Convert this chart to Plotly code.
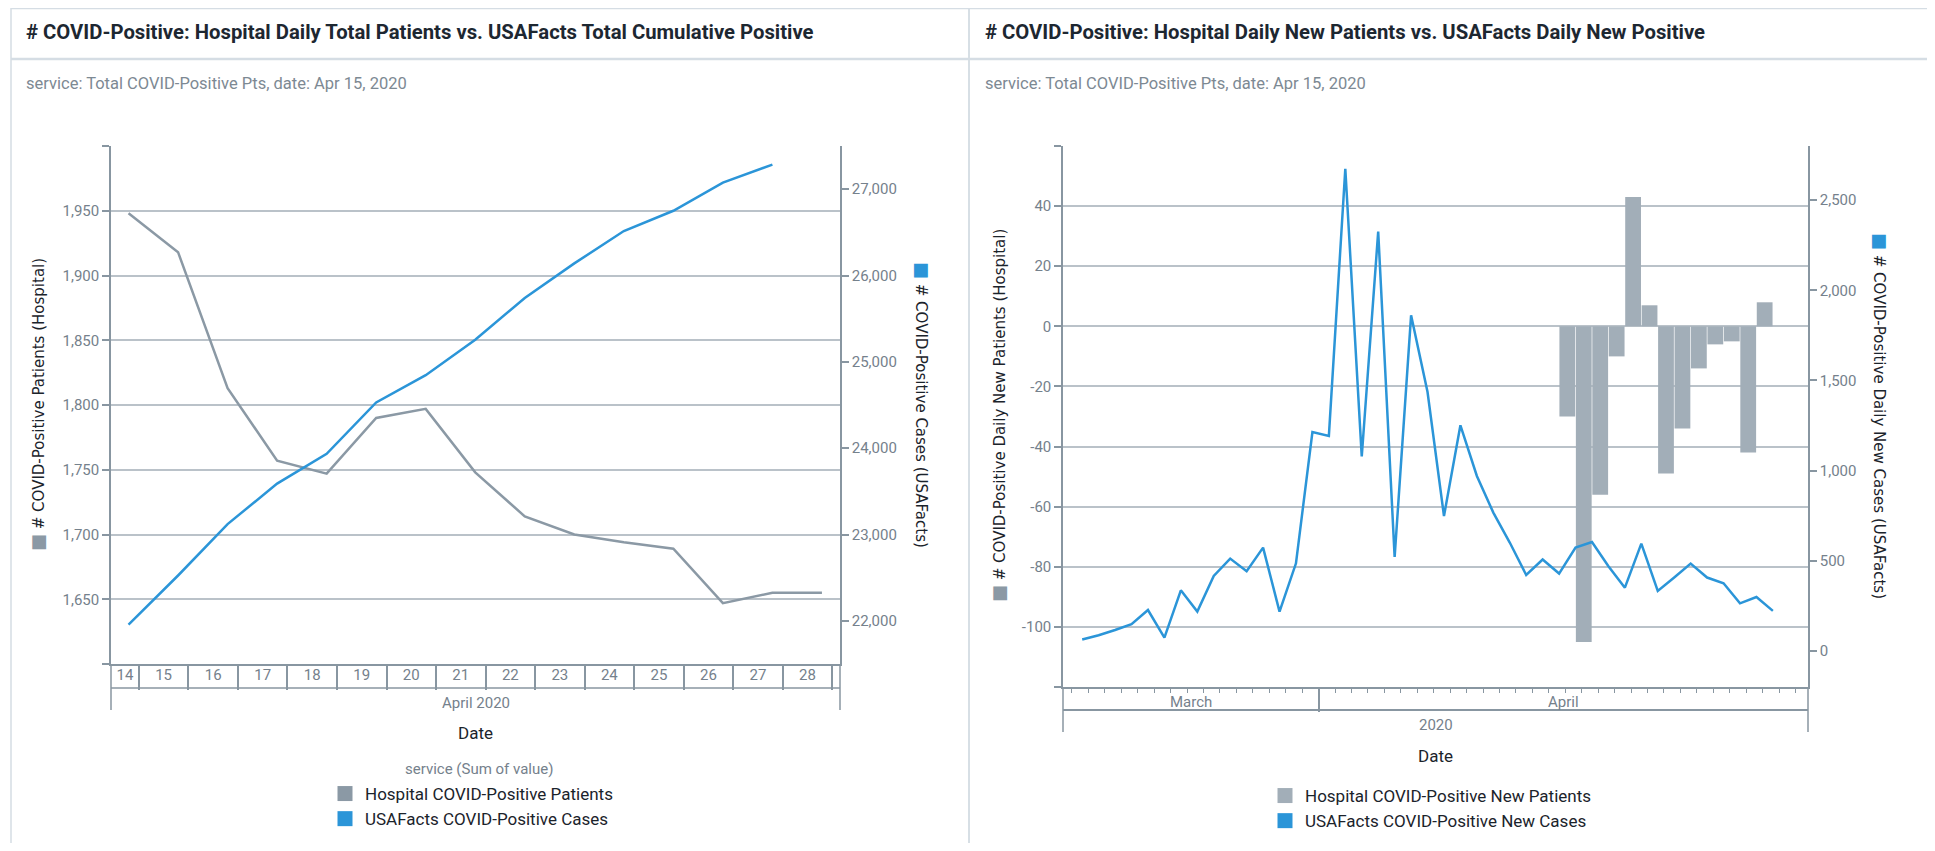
import pandas as pd
import plotly.graph_objects as go

# page is 1935x851; the default 8px body margin is taken off the figure size
PAGE_W, PAGE_H, OFF = 1935, 851, 8
W, H = PAGE_W - 2 * OFF, PAGE_H - 2 * OFF

# ---- left panel: daily totals (Apr 14 - Apr 28) ----
total_dates = pd.date_range("2020-04-14", "2020-04-28", freq="D")
hospital_total = [1948, 1918, 1813, 1757, 1747, 1790, 1797, 1748, 1714,
                  1700, 1694, 1689, 1647, 1655, 1655]
usafacts_cum = [21955, 22525, 23120, 23590, 23935, 24530, 24845, 25255,
                25740, 26140, 26515, 26750, 27075, 27285]

hosp_total_ticks = [1600, 1650, 1700, 1750, 1800, 1850, 1900, 1950, 2000]
hosp_total_labels = ["", "1,650", "1,700", "1,750", "1,800", "1,850",
                     "1,900", "1,950", ""]

# ---- right panel: daily new ----
new_case_dates = pd.date_range("2020-03-17", "2020-04-28", freq="D")
usafacts_new = [63, 87, 116, 148, 227, 74, 336, 218, 416, 512, 442, 573,
                218, 486, 1214, 1192, 2674, 1078, 2325, 521, 1861, 1436,
                748, 1251, 970, 767, 601, 421, 507, 429, 573, 604, 470,
                351, 595, 333, 407, 484, 407, 375, 264, 299, 222]

new_pt_dates = pd.date_range("2020-04-15", "2020-04-28", freq="D")
hospital_new = [-30, -105, -56, -10, 43, 7, -49, -34, -14, -6, -5, -42, 8, 0]

hosp_new_ticks = [-120, -100, -80, -60, -40, -20, 0, 20, 40, 60]
hosp_new_labels = ["", "-100", "-80", "-60", "-40", "-20", "0", "20", "40", ""]

GRAY = "#8b99a5"
BAR_GRAY = "#a2aeb8"
BLUE = "#2b95d8"
AXIS = "#8896a1"
GRID = "#bac2c9"
TICKTXT = "#75818c"
INK = "#1b232b"
FONT = "Roboto, 'Open Sans', sans-serif"
TITLE_FONT = "'DejaVu Sans', sans-serif"
DAY = 86400000
STAMP = "%Y-%m-%d %H:%M:%S"

# timestamps as placed by the source tool (local time offset)
left_x = total_dates + pd.Timedelta(hours=19)
right_x = new_case_dates + pd.Timedelta(hours=15)
bar_x = new_pt_dates + pd.Timedelta(hours=15)

LEFT_RANGE = ["2020-04-14 10:30", "2020-04-29 03:45"]
RIGHT_RANGE = ["2020-03-16 11:00", "2020-04-30 18:15"]


def px(p):
    return (p - OFF) / W


def py(p):
    return 1 - (p - OFF) / H


def day_cells(rng, min_frac=0.4):
    """Centre of the visible part of each day, labelled with the day number."""
    r0, r1 = pd.Timestamp(rng[0]), pd.Timestamp(rng[1])
    edges = [r0] + list(pd.date_range(r0.ceil("D"), r1, freq="D")) + [r1]
    vals, text = [], []
    for a, b in zip(edges[:-1], edges[1:]):
        if b - a >= pd.Timedelta(days=min_frac):
            vals.append((a + (b - a) / 2).strftime(STAMP))
            text.append(str(a.day))
    return vals, text


fig = go.Figure()

# left panel traces
fig.add_trace(go.Scatter(
    x=left_x, y=hospital_total, mode="lines", xaxis="x", yaxis="y",
    line=dict(color=GRAY, width=2.5), showlegend=False,
    name="Hospital COVID-Positive Patients",
))
fig.add_trace(go.Scatter(
    x=left_x[:len(usafacts_cum)], y=usafacts_cum, mode="lines",
    xaxis="x", yaxis="y2", line=dict(color=BLUE, width=2.5),
    showlegend=False, name="USAFacts COVID-Positive Cases",
))
# empty trace so the day-label axis gets drawn
fig.add_trace(go.Scatter(x=[None], y=[None], xaxis="x3", yaxis="y",
                         showlegend=False, hoverinfo="skip"))

# right panel traces
fig.add_trace(go.Bar(
    x=bar_x, y=hospital_new, xaxis="x2", yaxis="y3",
    width=0.96 * DAY, offset=0.02 * DAY,
    marker=dict(color=BAR_GRAY, line=dict(width=0)), showlegend=False,
    name="Hospital COVID-Positive New Patients",
))
fig.add_trace(go.Scatter(
    x=right_x, y=usafacts_new, mode="lines", xaxis="x2", yaxis="y4",
    line=dict(color=BLUE, width=2.5), showlegend=False,
    name="USAFacts COVID-Positive New Cases",
))

# square legend swatches
for name, color, legend, xa, ya in [
    ("Hospital COVID-Positive Patients", GRAY, "legend", "x", "y"),
    ("USAFacts COVID-Positive Cases", BLUE, "legend", "x", "y"),
    ("Hospital COVID-Positive New Patients", BAR_GRAY, "legend2", "x2", "y3"),
    ("USAFacts COVID-Positive New Cases", BLUE, "legend2", "x2", "y3"),
]:
    fig.add_trace(go.Scatter(
        x=[None], y=[None], mode="markers", xaxis=xa, yaxis=ya,
        marker=dict(symbol="square", size=15, color=color),
        name=name, legend=legend, hoverinfo="skip",
    ))

tickfont = dict(family=FONT, size=15, color=TICKTXT)
ycommon = dict(showline=True, linecolor=AXIS, linewidth=1.5, ticks="outside",
               ticklen=7, tickwidth=1.5, tickcolor=AXIS, tickfont=tickfont,
               zeroline=False, fixedrange=True)

cell_vals, cell_text = day_cells(LEFT_RANGE)

fig.update_layout(
    width=W, height=H,
    margin=dict(l=0, r=0, t=0, b=0),
    paper_bgcolor="white", plot_bgcolor="white",
    font=dict(family=FONT, color=INK),
    xaxis=dict(
        domain=[px(111), px(840)], anchor="y", type="date", range=LEFT_RANGE,
        showgrid=False, showline=True, linecolor=AXIS, linewidth=1.5,
        ticks="outside", ticklen=24, tickwidth=1.5, tickcolor=AXIS,
        tick0="2020-04-14", dtick=DAY, showticklabels=False, fixedrange=True,
    ),
    xaxis3=dict(
        overlaying="x", anchor="y", type="date", range=LEFT_RANGE,
        showgrid=False, showline=False, ticks="", tickvals=cell_vals,
        ticktext=cell_text, tickfont=dict(family=FONT, size=15, color=TICKTXT),
        fixedrange=True,
    ),
    yaxis=dict(
        domain=[py(664), py(146)], anchor="x", range=[1600, 2000],
        tickvals=hosp_total_ticks, ticktext=hosp_total_labels,
        showgrid=True, gridcolor=GRID, gridwidth=1.8, **ycommon,
    ),
    yaxis2=dict(
        overlaying="y", side="right", anchor="x", range=[21500, 27500],
        tick0=22000, dtick=1000, tickformat=",d", showgrid=False, **ycommon,
    ),
    xaxis2=dict(
        domain=[px(1063), px(1808)], anchor="y3", type="date",
        range=RIGHT_RANGE, showgrid=False, showline=True, linecolor=AXIS,
        linewidth=1.5, ticks="outside", ticklen=23, tickwidth=1.5,
        tickcolor=AXIS, tick0="2020-03-01", dtick="M1",
        showticklabels=False, fixedrange=True,
        minor=dict(ticks="outside", ticklen=4, tickwidth=1, tickcolor=AXIS,
                   tick0="2020-03-01", dtick=DAY, showgrid=False),
    ),
    yaxis3=dict(
        domain=[py(687), py(146)], anchor="x2", range=[-120, 60],
        tickvals=hosp_new_ticks, ticktext=hosp_new_labels,
        showgrid=True, gridcolor=GRID, gridwidth=1.8, **ycommon,
    ),
    yaxis4=dict(
        overlaying="y3", side="right", anchor="x2", range=[-200, 2800],
        tick0=0, dtick=500, tickformat=",d", showgrid=False, **ycommon,
    ),
    legend=dict(
        x=px(325), xanchor="left", y=py(776), yanchor="top",
        font=dict(family=FONT, size=17, color=INK),
        bgcolor="rgba(0,0,0,0)", tracegroupgap=0, itemclick=False,
    ),
    legend2=dict(
        x=px(1265), xanchor="left", y=py(778), yanchor="top",
        font=dict(family=FONT, size=17, color=INK),
        bgcolor="rgba(0,0,0,0)", tracegroupgap=0, itemclick=False,
    ),
)

# cards and header separators
CARD = "#d5dde4"
for x0, x1 in [(11, 969), (969, 1930)]:
    fig.add_shape(type="rect", xref="paper", yref="paper",
                  x0=px(x0), x1=px(x1), y0=-0.02, y1=py(8.5),
                  line=dict(color=CARD, width=1.5), layer="below")
    fig.add_shape(type="line", xref="paper", yref="paper",
                  x0=px(x0), x1=px(x1), y0=py(59), y1=py(59),
                  line=dict(color=CARD, width=2.5))

# axis header frames below the plots
FRAME = dict(color=AXIS, width=1.5)
fig.add_shape(type="line", xref="paper", yref="paper", x0=px(111), x1=px(840),
              y0=py(688), y1=py(688), line=FRAME)
for xp in (111, 840):
    fig.add_shape(type="line", xref="paper", yref="paper", x0=px(xp), x1=px(xp),
                  y0=py(664), y1=py(710), line=FRAME)
fig.add_shape(type="line", xref="paper", yref="paper", x0=px(1063), x1=px(1808),
              y0=py(710), y1=py(710), line=dict(color=AXIS, width=2))
for xp in (1063, 1808):
    fig.add_shape(type="line", xref="paper", yref="paper", x0=px(xp), x1=px(xp),
                  y0=py(687), y1=py(732), line=FRAME)


# text
def note(text, x, y, size, color, family=FONT, angle=0, xanchor="left",
         xref="paper"):
    fig.add_annotation(text=text, x=x, y=y, xref=xref, yref="paper",
                       xanchor=xanchor, yanchor="middle", showarrow=False,
                       textangle=angle,
                       font=dict(family=family, size=size, color=color))


note("<b># COVID-Positive: Hospital Daily Total Patients vs. USAFacts Total Cumulative Positive</b>",
     px(24), py(32), 20.3, "#1d2731")
note("<b># COVID-Positive: Hospital Daily New Patients vs. USAFacts Daily New Positive</b>",
     px(983), py(32), 20.3, "#1d2731")
for xp in (24, 983):
    note("service: Total COVID-Positive Pts, date: Apr 15, 2020",
         px(xp), py(84), 16.5, "#7d8993")


def sq(color):
    return f"<span style='color:{color};font-size:18px'>■</span> "


note(sq(GRAY) + "# COVID-Positive Patients (Hospital)", px(37), py(405), 15,
     INK, TITLE_FONT, -90, "center")
note(sq(BLUE) + "# COVID-Positive Cases (USAFacts)", px(923), py(405), 15,
     INK, TITLE_FONT, 90, "center")
note(sq(GRAY) + "# COVID-Positive Daily New Patients (Hospital)", px(998),
     py(416), 15, INK, TITLE_FONT, -90, "center")
note(sq(BLUE) + "# COVID-Positive Daily New Cases (USAFacts)", px(1881),
     py(416), 15, INK, TITLE_FONT, 90, "center")

note("April 2020", px(475.5), py(703), 15, TICKTXT, xanchor="center")
note("Date", px(475.5), py(733), 17, INK, xanchor="center")
note("service (Sum of value)", px(478.5), py(769), 15, TICKTXT,
     xanchor="center")
note("Date", px(1435.5), py(756), 17, INK, xanchor="center")
note("2020", px(1435.5), py(725), 15, TICKTXT, xanchor="center")

# month labels centred on the visible part of each month
r0, r1 = pd.Timestamp(RIGHT_RANGE[0]), pd.Timestamp(RIGHT_RANGE[1])
apr1 = pd.Timestamp("2020-04-01")
note("March", (r0 + (apr1 - r0) / 2).strftime(STAMP), py(702), 15, TICKTXT,
     xanchor="center", xref="x2")
note("April", (apr1 + (r1 - apr1) / 2).strftime(STAMP), py(702), 15, TICKTXT,
     xanchor="center", xref="x2")

fig.write_html("out.html")
